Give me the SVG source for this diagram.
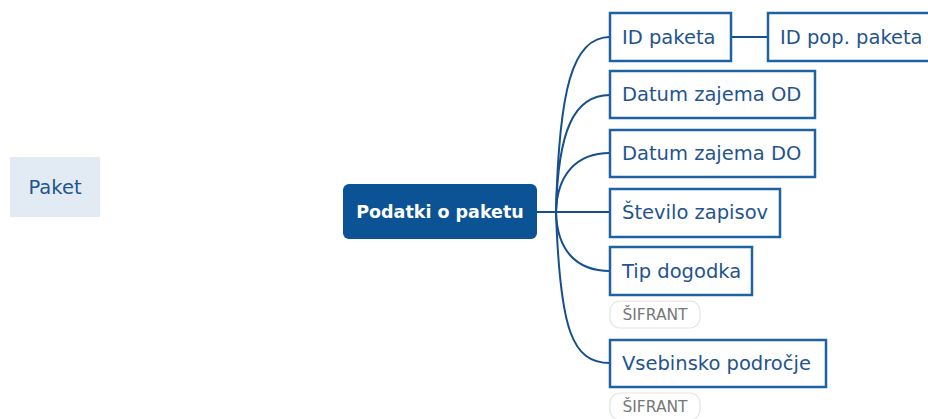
<svg xmlns="http://www.w3.org/2000/svg" width="928" height="419" viewBox="0 0 928 419">
<style>
.box{fill:#ffffff;stroke:#1f62a3;stroke-width:2.5}
.t{font-family:"DejaVu Sans",Verdana,sans-serif;font-size:19.5px;fill:#1f548f}
.c{fill:none;stroke:#15508c;stroke-width:2}
.tag{fill:#ffffff;stroke:#e3e3e3;stroke-width:1.2}
.tt{font-family:"DejaVu Sans",Verdana,sans-serif;font-size:15.5px;fill:#777777}
</style>
<rect width="928" height="419" fill="#ffffff"/>
<g id="connectors">
<line class="c" x1="537" y1="212" x2="610" y2="212"/>
<path class="c" d="M556 212 C559 90 572 37 610 37"/>
<path class="c" d="M556 212 C558 130 574 95 610 95"/>
<path class="c" d="M556 212 C557 175 576 153 610 153"/>
<path class="c" d="M556 212 C557 250 576 271 610 271"/>
<path class="c" d="M556 212 C560 330 572 363 610 363"/>
<line class="c" x1="731" y1="37" x2="768" y2="37"/>
</g>
<g id="paket">
<rect x="10" y="157" width="90" height="60" fill="#e2ebf4"/>
<text class="t" x="55" y="194" text-anchor="middle" fill="#2a5a8e">Paket</text>
</g>
<g id="central">
<rect x="343" y="184" width="194" height="55" rx="6" fill="#0b5394"/>
<text x="440" y="218" text-anchor="middle" font-family="DejaVu Sans,Verdana,sans-serif" font-size="17.5" font-weight="bold" fill="#ffffff">Podatki o paketu</text>
</g>
<g id="id-paketa">
<rect class="box" x="610" y="13" width="121" height="48"/>
<text class="t" x="622" y="44">ID paketa</text>
</g>
<g id="id-pop-paketa">
<rect class="box" x="768" y="13" width="170" height="48"/>
<text class="t" x="780" y="44">ID pop. paketa</text>
</g>
<g id="datum-od">
<rect class="box" x="610" y="71" width="205" height="47"/>
<text class="t" x="622" y="101">Datum zajema OD</text>
</g>
<g id="datum-do">
<rect class="box" x="610" y="130" width="205" height="47"/>
<text class="t" x="622" y="160">Datum zajema DO</text>
</g>
<g id="stevilo">
<rect class="box" x="610" y="189" width="170" height="48"/>
<text class="t" x="622" y="219">Število zapisov</text>
</g>
<g id="tip-dogodka">
<rect class="box" x="610" y="247" width="142" height="48"/>
<text class="t" x="622" y="278">Tip dogodka</text>
<rect class="tag" x="610" y="301" width="90" height="27" rx="10"/>
<text class="tt" x="655" y="320" text-anchor="middle">ŠIFRANT</text>
</g>
<g id="vsebinsko">
<rect class="box" x="610" y="340" width="216" height="47"/>
<text class="t" x="622" y="370">Vsebinsko področje</text>
<rect class="tag" x="610" y="393" width="90" height="27" rx="10"/>
<text class="tt" x="655" y="412" text-anchor="middle">ŠIFRANT</text>
</g>
</svg>
